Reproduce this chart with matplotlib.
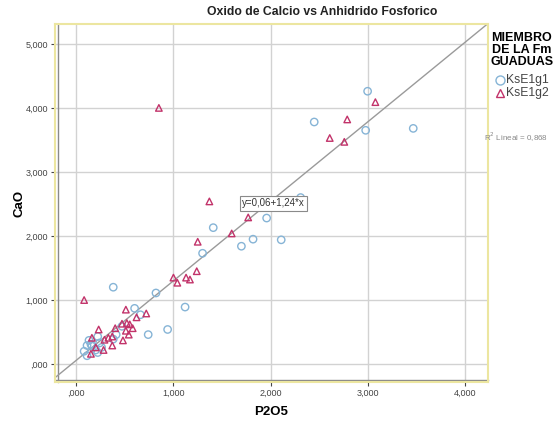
import matplotlib
matplotlib.use("Agg")
import matplotlib.pyplot as plt

plt.rcParams['font.family'] = ['Liberation Sans', 'DejaVu Sans']

# data (P2O5, CaO) per miembro
g1_p2o5 = [3.00, 2.45, 2.98, 3.47, 2.31, 1.96, 1.41, 1.30, 1.70, 1.82, 2.11,
           0.38, 0.82, 1.12, 0.60, 0.66, 0.94, 0.74, 0.47, 0.41, 0.22, 0.38,
           0.13, 0.15, 0.11, 0.16, 0.24, 0.26, 0.08, 0.11, 0.22, 0.20]
g1_cao = [4.26, 3.78, 3.65, 3.68, 2.60, 2.28, 2.13, 1.73, 1.84, 1.95, 1.94,
          1.20, 1.11, 0.89, 0.87, 0.77, 0.54, 0.46, 0.59, 0.46, 0.43, 0.39,
          0.37, 0.31, 0.29, 0.28, 0.33, 0.26, 0.20, 0.13, 0.18, 0.22]

g2_p2o5 = [3.08, 2.79, 2.61, 2.76, 0.85, 1.37, 1.77, 1.60, 1.25, 1.24,
           1.00, 1.04, 1.13, 1.17, 0.08, 0.51, 0.72, 0.62, 0.47, 0.52,
           0.55, 0.58, 0.40, 0.51, 0.54, 0.48, 0.23, 0.16, 0.37, 0.33,
           0.29, 0.37, 0.20, 0.15, 0.28]
g2_cao = [4.09, 3.82, 3.53, 3.47, 4.00, 2.54, 2.29, 2.04, 1.91, 1.45,
          1.35, 1.27, 1.35, 1.32, 1.00, 0.85, 0.79, 0.73, 0.63, 0.64,
          0.62, 0.56, 0.56, 0.52, 0.46, 0.37, 0.54, 0.41, 0.43, 0.41,
          0.38, 0.29, 0.26, 0.16, 0.22]

intercept = 0.06
slope = 1.24
r2 = 0.868

x_ticks = [0, 1, 2, 3, 4]
y_ticks = [0, 1, 2, 3, 4, 5]
x_lim = (-0.22, 4.24)
y_lim = (-0.28, 5.31)


def coma(v):
    s = "{:,.3f}".format(v).replace(".", ",")
    return s[1:] if s.startswith("0") else s


fig = plt.figure(figsize=(5.53, 4.21), dpi=100)
ax = fig.add_axes([55 / 553, 39 / 421, 433 / 553, 358 / 421])

ax.set_xlim(*x_lim)
ax.set_ylim(*y_lim)
ax.set_xticks(x_ticks)
ax.set_yticks(y_ticks)
ax.set_xticklabels([coma(v) for v in x_ticks])
ax.set_yticklabels([coma(v) for v in y_ticks])
ax.tick_params(labelsize=6.5, colors='#444444', length=3, width=0.8, pad=2)
ax.grid(True, color='#d2d2d2', linewidth=1)
ax.set_axisbelow(True)

for sp in ax.spines.values():
    sp.set_color('#ece6a0')
    sp.set_linewidth(1.5)
ax.plot([0.006, 0.006], [0, 1], transform=ax.transAxes, color='#8a8a8a', lw=1, clip_on=False)
ax.plot([0, 1], [0.006, 0.006], transform=ax.transAxes, color='#8a8a8a', lw=1, clip_on=False)

# linea de ajuste
xs = list(x_lim)
ax.plot(xs, [intercept + slope * v for v in xs], color='#9a9a9a', lw=1, zorder=2)

ax.scatter(g1_p2o5, g1_cao, s=28, marker='o', facecolors='none',
           edgecolors='#86b4d6', linewidths=1, zorder=3)
ax.scatter(g2_p2o5, g2_cao, s=22, marker='^', facecolors='none',
           edgecolors='#c2336a', linewidths=1, zorder=3)

ax.text(2.03, 2.51, "y=0,06+1,24*x", fontsize=7, color='#333333', ha='center', va='center',
        bbox=dict(boxstyle='square,pad=0.25', fc='white', ec='#8a8a8a', lw=0.8), zorder=5)

ax.set_xlabel("P2O5", fontsize=9.5, fontweight='bold', labelpad=6)
ax.set_ylabel("CaO", fontsize=9.5, fontweight='bold', labelpad=0)

fig.text(0.582, 0.972, "Oxido de Calcio vs Anhidrido Fosforico", fontsize=8.8,
         fontweight='bold', ha='center', va='center', color='#222222')

# leyenda
fig.text(522 / 553, 1 - 50 / 421, "MIEMBRO\nDE LA Fm\nGUADUAS", fontsize=9, fontweight='bold',
         ha='center', va='center', linespacing=0.95)
fig.lines.append(plt.Line2D([500 / 553], [1 - 80 / 421], marker='o', ms=6.5, mfc='none',
                            mec='#86b4d6', mew=1, transform=fig.transFigure))
fig.lines.append(plt.Line2D([500 / 553], [1 - 93 / 421], marker='^', ms=6, mfc='none',
                            mec='#c2336a', mew=1, transform=fig.transFigure))
fig.text(506 / 553, 1 - 80 / 421, "KsE1g1", fontsize=8.8, color='#444444', va='center')
fig.text(506 / 553, 1 - 93 / 421, "KsE1g2", fontsize=8.8, color='#444444', va='center')

fig.text(484 / 553, 1 - 137 / 421, "R$^2$ Lineal = " + "{:.3f}".format(r2).replace(".", ","),
         fontsize=5.8, color='#888888', va='center', zorder=1)

fig.savefig("out.png", dpi=100)
